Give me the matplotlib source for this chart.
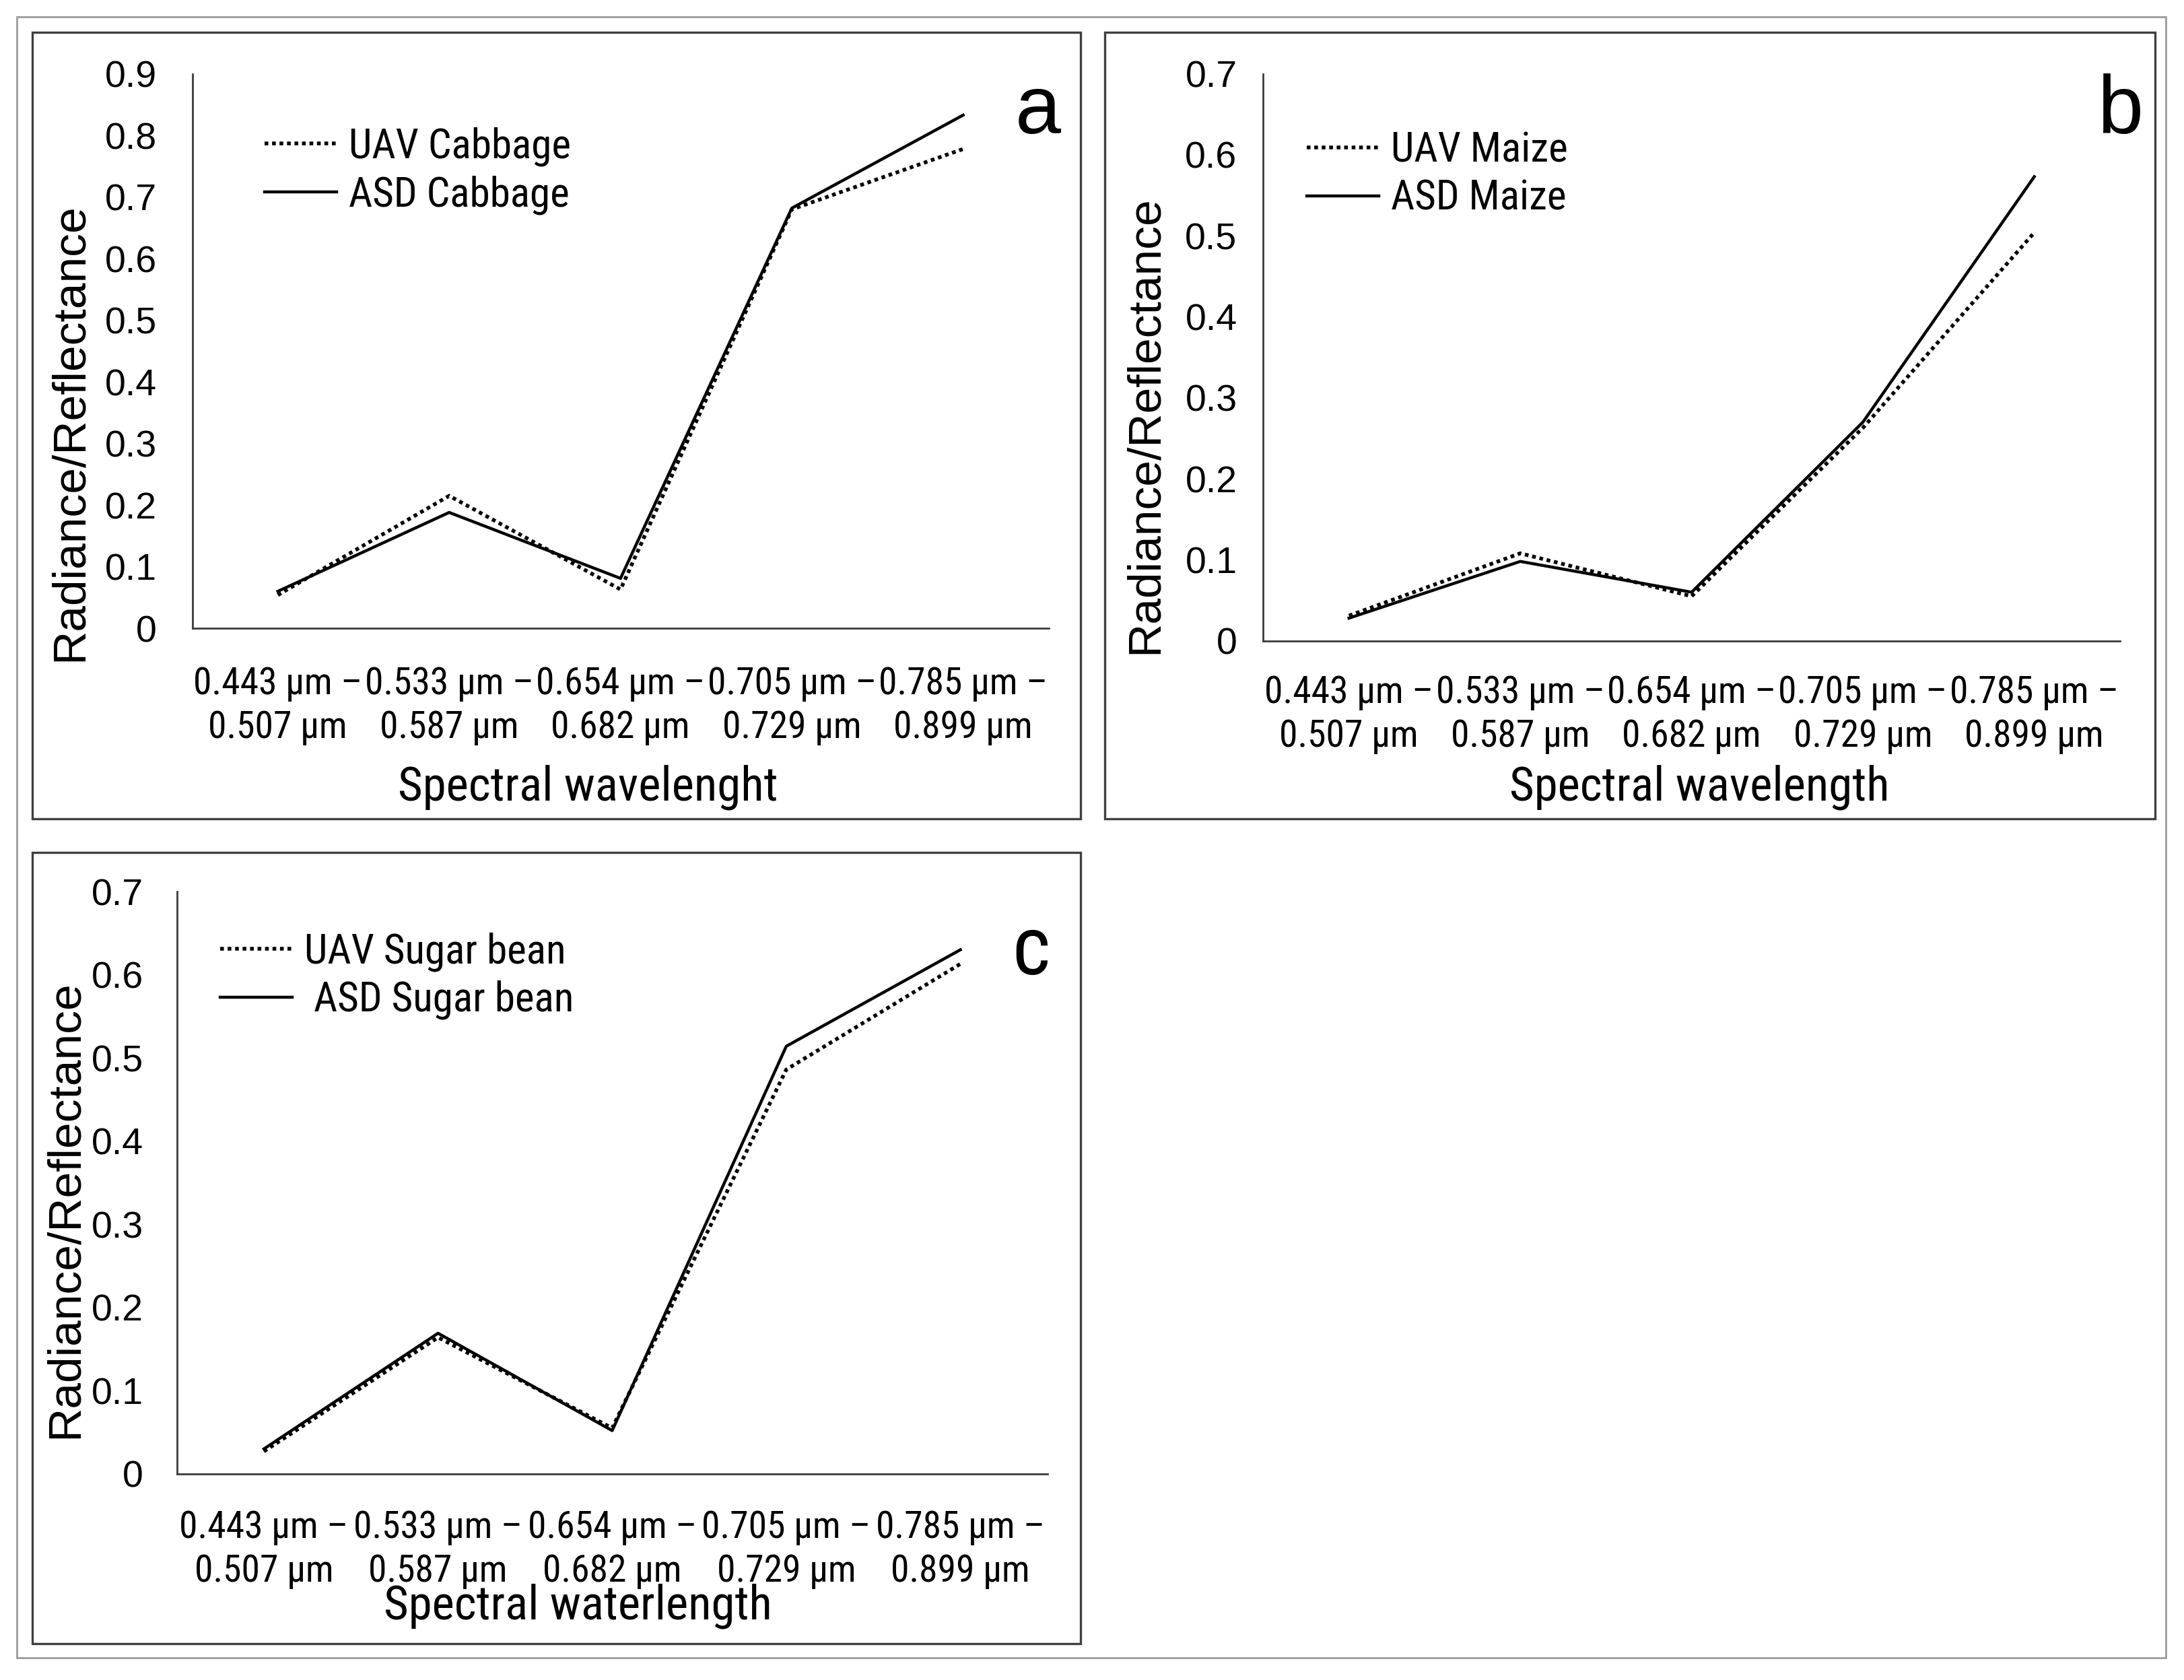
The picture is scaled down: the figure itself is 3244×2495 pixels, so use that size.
import matplotlib.pyplot as plt
from matplotlib.patches import Rectangle

# band labels shared by the three panels
bands = [
    "0.443 µm –\n0.507 µm",
    "0.533 µm –\n0.587 µm",
    "0.654 µm –\n0.682 µm",
    "0.705 µm –\n0.729 µm",
    "0.785 µm –\n0.899 µm",
]

# Cabbage
uav_cabbage = [0.054, 0.215, 0.063, 0.680, 0.778]
asd_cabbage = [0.060, 0.188, 0.081, 0.682, 0.833]
# Maize
uav_maize = [0.031, 0.108, 0.055, 0.263, 0.504]
asd_maize = [0.028, 0.098, 0.060, 0.270, 0.573]
# Sugar bean
uav_bean = [0.027, 0.164, 0.055, 0.486, 0.613]
asd_bean = [0.030, 0.169, 0.052, 0.514, 0.630]

NARROW = ["Roboto Condensed", "Liberation Sans Narrow", "Roboto", "DejaVu Sans"]
SANS = ["Liberation Sans", "DejaVu Sans"]

W, H = 1568, 1206  # working units of the reference layout

fig = plt.figure(figsize=(16.22, 12.475), dpi=200)


def fx(x):
    return x / W


def fy(y):
    return 1 - y / H


# outer frame and panel frames
fig.patches.append(Rectangle((fx(12), fy(1190)), fx(1543), 1178 / H, transform=fig.transFigure,
                             fill=False, edgecolor="#9a9a9a", linewidth=1.0))
for (x0, y0, x1, y1) in [(23, 23, 776, 588), (793, 23, 1547, 588), (23, 612, 776, 1180)]:
    fig.patches.append(Rectangle((fx(x0), fy(y1)), fx(x1 - x0), (y1 - y0) / H,
                                 transform=fig.transFigure, fill=False,
                                 edgecolor="#404040", linewidth=1.2))

panels = [
    dict(uav=uav_cabbage, asd=asd_cabbage, names=("UAV Cabbage", "ASD Cabbage"), ymax=0.9,
         box=(138, 53, 753, 451), xlabel="Spectral wavelenght", letter="a", letter_xy=(745, 80),
         letter_font=SANS, leg=(190, 91), xpad=20, ypad=19, xl=(422, 565), yl=(50, 310)),
    dict(uav=uav_maize, asd=asd_maize, names=("UAV Maize", "ASD Maize"), ymax=0.7,
         box=(907, 53, 1522, 460), xlabel="Spectral wavelength", letter="b", letter_xy=(1522, 80),
         letter_font=SANS, leg=(938, 94), xpad=18, ypad=14, xl=(1220, 565), yl=(822, 305)),
    dict(uav=uav_bean, asd=asd_bean, names=("UAV Sugar bean", " ASD Sugar bean"), ymax=0.7,
         box=(127, 640, 752, 1058), xlabel="Spectral waterlength", letter="c", letter_xy=(740, 683),
         letter_font=NARROW, leg=(158, 669), xpad=19, ypad=18, xl=(415, 1153), yl=(47, 868)),
]

for p in panels:
    l, t, r, b = p["box"]
    ax = fig.add_axes([fx(l), fy(b), fx(r - l), (b - t) / H])
    x = range(len(bands))
    ax.plot(x, p["uav"], color="black", linestyle=(0, (1, 1)), linewidth=2.0, label=p["names"][0])
    ax.plot(x, p["asd"], color="black", linestyle="-", linewidth=1.6, label=p["names"][1])
    ax.set_xlim(-0.5, len(bands) - 0.5)
    ax.set_ylim(0, p["ymax"])
    ticks = [i / 10 for i in range(int(round(p["ymax"] * 10)) + 1)]
    ax.set_yticks(ticks)
    ax.set_yticklabels(["0" if v == 0 else f"{v:.1f}" for v in ticks], fontfamily=SANS, fontsize=20)
    ax.set_xticks(list(x))
    ax.set_xticklabels(bands, fontfamily=NARROW, fontsize=20, linespacing=1.3)
    ax.tick_params(axis="x", length=0, pad=p["xpad"])
    ax.tick_params(axis="y", length=0, pad=p["ypad"])
    for s in ["top", "right"]:
        ax.spines[s].set_visible(False)
    for s in ["left", "bottom"]:
        ax.spines[s].set_color("#3a3a3a")
        ax.spines[s].set_linewidth(1.0)
    ax.patch.set_alpha(0)

    ax.set_xlabel(p["xlabel"], fontfamily=NARROW, fontsize=25.5)
    ax.xaxis.label.set_va("center")
    ax.xaxis.set_label_coords((p["xl"][0] - l) / (r - l), (b - p["xl"][1]) / (b - t))
    ax.set_ylabel("Radiance/Reflectance", fontfamily=SANS, fontsize=25)
    ax.yaxis.label.set_va("center")
    ax.yaxis.set_label_coords((p["yl"][0] - l) / (r - l), (b - p["yl"][1]) / (b - t))

    ax.legend(loc="upper left", bbox_to_anchor=(fx(p["leg"][0]), fy(p["leg"][1])),
              bbox_transform=fig.transFigure, frameon=False, borderpad=0, borderaxespad=0,
              handlelength=1.75, handletextpad=0.3, labelspacing=0.22,
              prop={"family": NARROW, "size": 22})

    fig.text(fx(p["letter_xy"][0]), fy(p["letter_xy"][1]), p["letter"], fontfamily=p["letter_font"],
             fontsize=44, ha="center", va="center")

fig.savefig("out.png", dpi=200)
